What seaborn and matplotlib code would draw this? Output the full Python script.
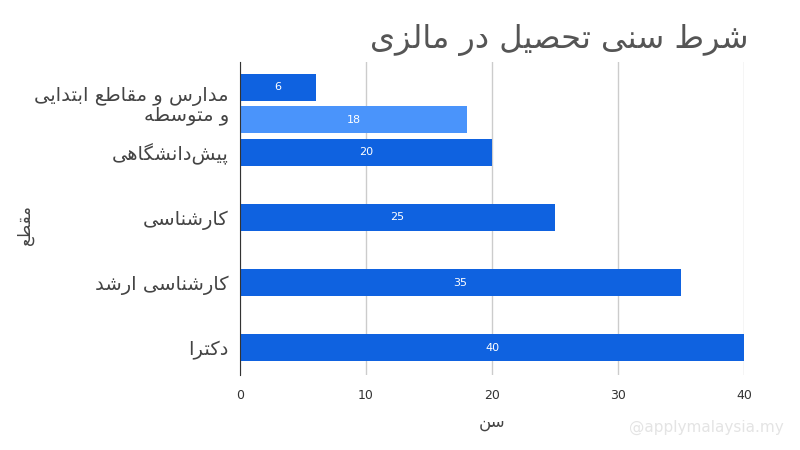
import matplotlib
matplotlib.use("Agg")
import matplotlib.pyplot as plt
import seaborn as sns
import pandas as pd

# ---- data ----
slots = ["s0", "s1", "s2", "s3", "s4", "s5", "s6", "s7", "s8"]
bar_slots = ["s0", "s1", "s2", "s4", "s6", "s8"]
ages = [6, 18, 20, 25, 35, 40]
series = ["a", "b", "a", "a", "a", "a"]
tick_slots = [0.5, 2, 4, 6, 8]
tick_labels = ["مدارس و مقاطع ابتدایی\nو متوسطه", "پیش\u200cدانشگاهی", "کارشناسی", "کارشناسی ارشد", "دکترا"]
title = "شرط سنی تحصیل در مالزی"
xlabel = "سن"
ylabel = "مقطع"

# ---- minimal Persian shaping (presentation forms) ----
FORMS = {
    "ا": (0xFE8D, 0xFE8E, None, None), "ب": (0xFE8F, 0xFE90, 0xFE91, 0xFE92),
    "پ": (0xFB56, 0xFB57, 0xFB58, 0xFB59), "ت": (0xFE95, 0xFE96, 0xFE97, 0xFE98),
    "ح": (0xFEA1, 0xFEA2, 0xFEA3, 0xFEA4), "د": (0xFEA9, 0xFEAA, None, None),
    "ر": (0xFEAD, 0xFEAE, None, None), "ز": (0xFEAF, 0xFEB0, None, None),
    "س": (0xFEB1, 0xFEB2, 0xFEB3, 0xFEB4), "ش": (0xFEB5, 0xFEB6, 0xFEB7, 0xFEB8),
    "ص": (0xFEB9, 0xFEBA, 0xFEBB, 0xFEBC), "ط": (0xFEC1, 0xFEC2, 0xFEC3, 0xFEC4),
    "ع": (0xFEC9, 0xFECA, 0xFECB, 0xFECC), "ق": (0xFED5, 0xFED6, 0xFED7, 0xFED8),
    "ک": (0xFB8E, 0xFB8F, 0xFB90, 0xFB91), "گ": (0xFB92, 0xFB93, 0xFB94, 0xFB95),
    "ل": (0xFEDD, 0xFEDE, 0xFEDF, 0xFEE0), "م": (0xFEE1, 0xFEE2, 0xFEE3, 0xFEE4),
    "ن": (0xFEE5, 0xFEE6, 0xFEE7, 0xFEE8), "ه": (0xFEE9, 0xFEEA, 0xFEEB, 0xFEEC),
    "و": (0xFEED, 0xFEEE, None, None), "ی": (0xFBFC, 0xFBFD, 0xFBFE, 0xFBFF),
}

def shape_line(s):
    out = []
    for i, c in enumerate(s):
        if c not in FORMS:
            if c != "\u200c":
                out.append(c)
            continue
        prev = s[i - 1] if i > 0 else ""
        nxt = s[i + 1] if i + 1 < len(s) else ""
        jp = prev in FORMS and FORMS[prev][2] is not None
        jn = FORMS[c][2] is not None and nxt in FORMS
        f = FORMS[c]
        if jp and jn:
            cp = f[3]
        elif jp:
            cp = f[1]
        elif jn:
            cp = f[2]
        else:
            cp = f[0]
        out.append(chr(cp))
    return "".join(reversed(out))

def fa(s):
    return "\n".join(shape_line(l) for l in s.split("\n"))

plt.rcParams["font.family"] = "DejaVu Sans"
df = pd.DataFrame({"slot": bar_slots, "age": ages, "series": series})

fig = plt.figure(figsize=(8, 4.5), dpi=100)
ax = fig.add_axes([0.30, 0.167, 0.63, 0.695])
sns.barplot(data=df, y="slot", x="age", hue="series", order=slots, dodge=False,
            palette={"a": "#0f62e0", "b": "#4a94fb"}, saturation=1, width=0.84,
            legend=False, ax=ax)
for cont in ax.containers:
    ax.bar_label(cont, label_type="center", color="white", fontsize=8)
ax.set_xlim(0, 40)
ax.set_ylim(8.83, -0.77)
ax.set_xticks([0, 10, 20, 30, 40])
ax.set_yticks(tick_slots)
ax.set_yticklabels([fa(t) for t in tick_labels], fontsize=14, color="#444444", ha="right",
                   linespacing=1.0)
ax.tick_params(axis="y", length=0, pad=8)
ax.tick_params(axis="x", length=0, labelsize=9, colors="#333333", pad=10)
ax.grid(axis="x", color="#cccccc", linewidth=1)
ax.set_axisbelow(True)
for sp in ["top", "right", "bottom"]:
    ax.spines[sp].set_visible(False)
ax.spines["left"].set_color("#333333")
ax.set_xlabel(fa(xlabel), fontsize=12, color="#444444", labelpad=8)
ax.set_ylabel("")
fig.text(0.02, 0.5, fa(ylabel), rotation=90, fontsize=12, color="#444444", va="center")
fig.text(0.935, 0.91, fa(title), fontsize=23, color="#555555", ha="right", va="center")
fig.text(0.98, 0.05, "@applymalaysia.my", fontsize=11, color="#e4e4e4", ha="right", va="center")
fig.savefig("out.png", dpi=100)
